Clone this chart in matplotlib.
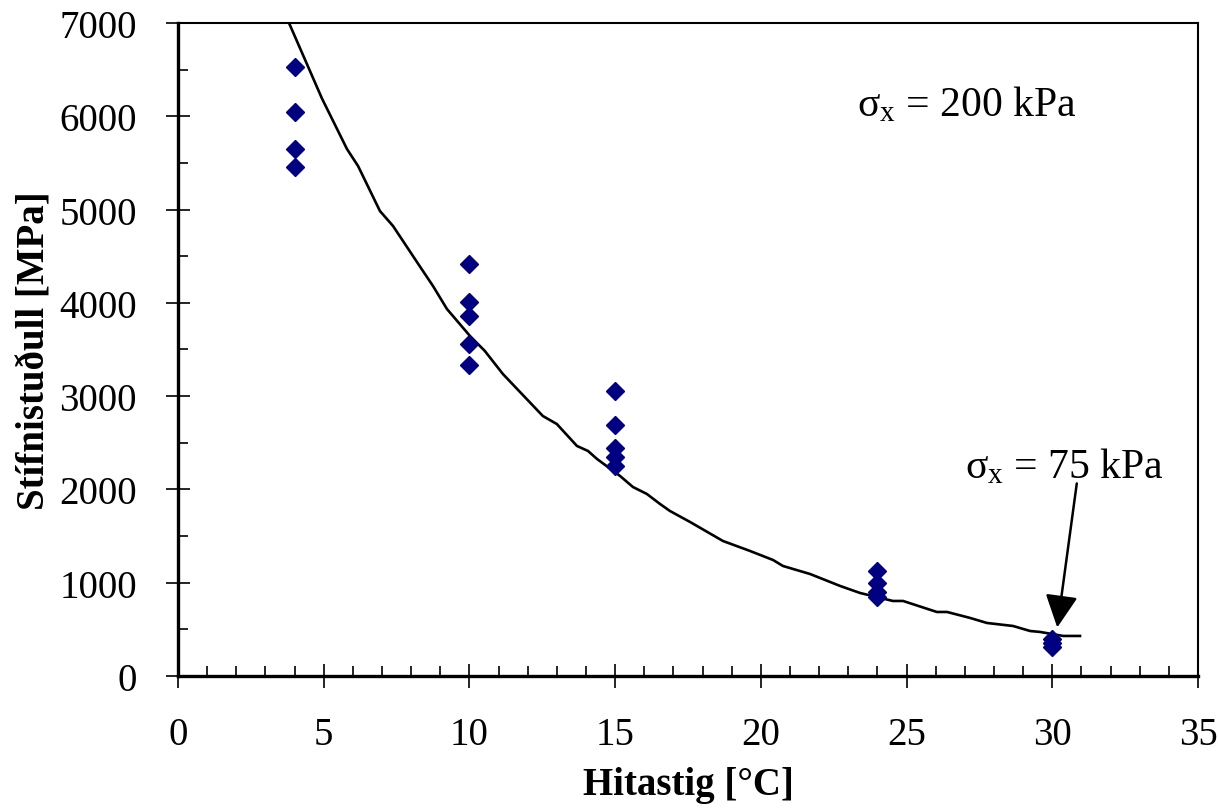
#!/usr/bin/env python3
"""Stiffness modulus vs temperature: measured points and fitted curve."""

import matplotlib
matplotlib.use("Agg")
import matplotlib.pyplot as plt
from matplotlib.ticker import MultipleLocator

plt.rcParams["font.family"] = ["Liberation Serif", "DejaVu Serif"]
plt.rcParams["mathtext.fontset"] = "custom"
plt.rcParams["mathtext.rm"] = "Liberation Serif"

# measured points (temperature, stiffness)
temp_pts = [4, 4, 4, 4,
            10, 10, 10, 10, 10,
            15, 15, 15, 15, 15,
            24, 24, 24, 24,
            30, 30, 30]
stiff_pts = [6530, 6050, 5650, 5460,
             4420, 4010, 3860, 3560, 3330,
             3055, 2690, 2445, 2345, 2250,
             1125, 995, 900, 845,
             400, 350, 310]

# fitted curve
curve_t = [3.70, 4.19, 4.94, 5.80, 6.18, 6.93, 7.38, 8.20, 8.75, 9.23, 10.02,
           10.53, 11.15, 12.52, 13.00, 13.69, 14.07, 14.38, 15.17, 15.61,
           16.09, 16.54, 16.88, 17.57, 18.70, 19.63, 20.42, 20.76, 21.69,
           22.72, 23.40, 24.53, 24.88, 26.04, 26.39, 27.18, 27.76, 28.65,
           29.24, 29.58, 30.37, 30.95]
curve_e = [7080, 6729, 6192, 5649, 5467, 4985, 4824, 4438, 4181, 3934, 3645,
           3484, 3237, 2787, 2701, 2466, 2412, 2326, 2144, 2026,
           1951, 1844, 1769, 1651, 1447, 1340, 1243, 1179, 1093,
           965, 890, 804, 804, 686, 686, 622, 568, 536,
           482, 472, 429, 429]

fig = plt.figure(figsize=(12.18, 8.12), dpi=100)
ax = fig.add_axes([0.1461, 0.1663, 0.8375, 0.8041])

ax.plot(curve_t, curve_e, color="black", lw=1.9, zorder=2)
ax.plot(temp_pts, stiff_pts, linestyle="none", marker="D", markersize=9,
        color="#000080", zorder=3)

ax.set_xlim(0, 35)
ax.set_ylim(0, 7000)
ax.xaxis.set_major_locator(MultipleLocator(5))
ax.xaxis.set_minor_locator(MultipleLocator(1))
ax.yaxis.set_major_locator(MultipleLocator(1000))
ax.yaxis.set_minor_locator(MultipleLocator(500))
ax.tick_params(which="major", direction="inout", length=17, width=1.2,
               labelsize=28)
ax.tick_params(axis="x", which="major", pad=20)
ax.tick_params(axis="y", which="major", pad=21)
ax.tick_params(which="minor", direction="in", length=7, width=1.2)

for side in ("left", "bottom"):
    ax.spines[side].set_linewidth(2.4)
for side in ("top", "right"):
    ax.spines[side].set_linewidth(1.5)

ax.set_xlabel("Hitastig [°C]", fontsize=28, fontweight="bold", labelpad=10)
ax.set_ylabel("Stífnistuðull [MPa]", fontsize=28, fontweight="bold", labelpad=4)

ax.text(23.3, 6130, r"$\mathregular{σ_x}$ = 200 kPa", fontsize=30,
        ha="left", va="center")
ax.text(27.0, 2250, r"$\mathregular{σ_x}$ = 75 kPa", fontsize=30,
        ha="left", va="center")
ax.annotate("", xy=(30.17, 520), xytext=(30.84, 2064),
            arrowprops=dict(arrowstyle="-|>,head_length=1.0,head_width=0.5",
                            mutation_scale=20, color="black", lw=1.8,
                            shrinkA=0, shrinkB=0))

fig.savefig("out.png", dpi=100)
